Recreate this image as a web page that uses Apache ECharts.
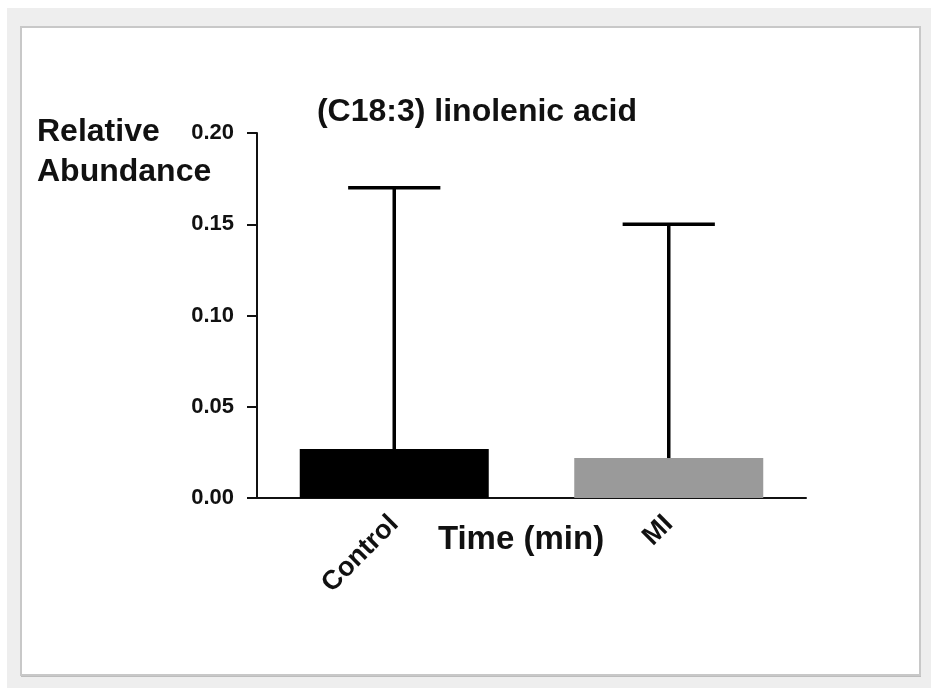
<!DOCTYPE html>
<html>
<head>
<meta charset="utf-8">
<script src="https://cdn.jsdelivr.net/npm/echarts@6/dist/echarts.min.js"></script>
<style>
html,body{margin:0;padding:0;background:#fff;}
#chart{width:939px;height:688px;}
</style>
</head>
<body>
<div id="chart"></div>
<script>
var categories = ['Control', 'MI'];
var meanValues = [0.0268, 0.0219];
var upperValues = [0.170, 0.150];
var barColors = ['#000000', '#9a9a9a'];
var yTicks = [0, 0.05, 0.10, 0.15, 0.20];

var chart = echarts.init(document.getElementById('chart'), null, {renderer: 'canvas'});
var FONT = '"Liberation Sans", Arial, sans-serif';

var errData = categories.map(function (c, i) { return [i, meanValues[i], upperValues[i]]; });

var option = {
  backgroundColor: '#ffffff',
  animation: false,
  graphic: [
    {type: 'rect', z: -10, shape: {x: 7, y: 8, width: 924, height: 680}, style: {fill: '#eeeeee'}},
    {type: 'rect', z: -9, shape: {x: 21, y: 29, width: 900, height: 648}, style: {fill: '#bdbdbd'}},
    {type: 'rect', z: -8, shape: {x: 21, y: 27, width: 899, height: 648}, style: {fill: '#ffffff', stroke: '#c8c8c8', lineWidth: 2}},
    {type: 'text', z: 10, left: 37, top: 112, style: {text: 'Relative\nAbundance', font: 'bold 32px ' + FONT, fill: '#111', lineHeight: 40}},
    {type: 'text', z: 10, x: 521, y: 540, style: {text: 'Time (min)', font: 'bold 33px ' + FONT, fill: '#111', textAlign: 'center', textVerticalAlign: 'middle'}}
  ],
  title: {
    text: '(C18:3) linolenic acid',
    left: 476, top: 91,
    textAlign: 'center',
    textStyle: {fontFamily: FONT, fontWeight: 'bold', fontSize: 32, color: '#111'}
  },
  grid: {left: 257, right: 133, top: 133, bottom: 190, containLabel: false},
  xAxis: {
    type: 'category',
    data: categories,
    axisLine: {lineStyle: {color: '#111', width: 2}},
    axisTick: {alignWithLabel: true, length: 9, lineStyle: {color: '#111', width: 2}},
    axisLabel: {rotate: 45, margin: 22, fontFamily: FONT, fontWeight: 'bold', fontSize: 27, color: '#111'}
  },
  yAxis: {
    type: 'value',
    min: 0, max: 0.2, interval: 0.05,
    splitLine: {show: false},
    axisLine: {show: true, lineStyle: {color: '#111', width: 2}},
    axisTick: {show: true, length: 10, lineStyle: {color: '#111', width: 2}},
    axisLabel: {margin: 23, fontFamily: FONT, fontWeight: 'bold', fontSize: 22, color: '#111',
      formatter: function (v) { return v.toFixed(2); }}
  },
  series: [
    {
      type: 'bar',
      barWidth: 189,
      data: meanValues.map(function (v, i) { return {value: v, itemStyle: {color: barColors[i]}}; }),
      z: 2
    },
    {
      type: 'custom',
      z: 3,
      data: errData,
      renderItem: function (params, api) {
        var x = api.value(0);
        var lo = api.coord([x, api.value(1)]);
        var hi = api.coord([x, api.value(2)]);
        var half = api.size([1, 0])[0] * 0.168;
        var st = {stroke: '#000', lineWidth: 3.5};
        return {
          type: 'group',
          children: [
            {type: 'line', shape: {x1: lo[0], y1: lo[1], x2: hi[0], y2: hi[1]}, style: st},
            {type: 'line', shape: {x1: hi[0] - half, y1: hi[1], x2: hi[0] + half, y2: hi[1]}, style: st}
          ]
        };
      }
    }
  ]
};
option.title.left = 472;
chart.setOption(option);
</script>
</body>
</html>
